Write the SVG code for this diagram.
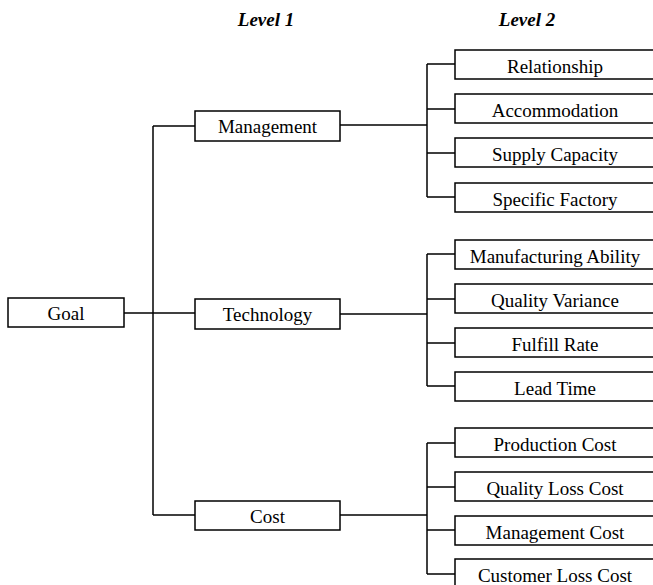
<svg xmlns="http://www.w3.org/2000/svg" width="653" height="585" viewBox="0 0 653 585">
  <style>
    .box { fill: #fff; stroke: #000; stroke-width: 1.5; }
    .lbl { font-family: "Liberation Serif", "Times New Roman", serif; font-size: 19px; fill: #000; text-anchor: middle; }
    .head { font-family: "Liberation Serif", "Times New Roman", serif; font-size: 19px; font-weight: bold; font-style: italic; fill: #000; text-anchor: middle; }
    .wire { fill: none; stroke: #000; stroke-width: 1.5; }
  </style>
  <rect width="653" height="585" fill="#fff"/>

  <text class="head" x="266" y="26">Level 1</text>
  <text class="head" x="527" y="26">Level 2</text>

  <g id="connectors" class="wire">
    <!-- goal to level 1 -->
    <path d="M124 313 H196"/>
    <path d="M153 126 V515"/>
    <path d="M153 126 H196"/>
    <path d="M153 515 H196"/>
    <!-- management branch -->
    <path d="M340 125 H427"/>
    <path d="M427 64 V197"/>
    <path d="M427 64 H455 M427 109 H455 M427 153 H455 M427 197 H455"/>
    <!-- technology branch -->
    <path d="M340 314 H427"/>
    <path d="M427 254 V386"/>
    <path d="M427 254 H455 M427 299 H455 M427 343 H455 M427 386 H455"/>
    <!-- cost branch -->
    <path d="M340 515 H427"/>
    <path d="M427 443 V574"/>
    <path d="M427 443 H455 M427 487 H455 M427 530 H455 M427 574 H455"/>
  </g>

  <g id="goal"><rect class="box" x="8" y="298" width="116" height="29"/><text class="lbl" x="66" y="320">Goal</text></g>

  <g id="management"><rect class="box" x="195" y="111" width="145" height="30"/><text class="lbl" x="267.5" y="133">Management</text></g>
  <g id="technology"><rect class="box" x="195" y="299" width="145" height="30"/><text class="lbl" x="267.5" y="321">Technology</text></g>
  <g id="cost"><rect class="box" x="195" y="501" width="145" height="29"/><text class="lbl" x="267.5" y="523">Cost</text></g>

  <g id="relationship"><rect class="box" x="455" y="50" width="202" height="29"/><text class="lbl" x="555" y="73">Relationship</text></g>
  <g id="accommodation"><rect class="box" x="455" y="94" width="202" height="29"/><text class="lbl" x="555" y="117">Accommodation</text></g>
  <g id="supply-capacity"><rect class="box" x="455" y="138" width="202" height="29"/><text class="lbl" x="555" y="161">Supply Capacity</text></g>
  <g id="specific-factory"><rect class="box" x="455" y="183" width="202" height="29"/><text class="lbl" x="555" y="206">Specific Factory</text></g>

  <g id="manufacturing-ability"><rect class="box" x="455" y="240" width="202" height="29"/><text class="lbl" x="555" y="263">Manufacturing Ability</text></g>
  <g id="quality-variance"><rect class="box" x="455" y="284" width="202" height="29"/><text class="lbl" x="555" y="307">Quality Variance</text></g>
  <g id="fulfill-rate"><rect class="box" x="455" y="328" width="202" height="29"/><text class="lbl" x="555" y="351">Fulfill Rate</text></g>
  <g id="lead-time"><rect class="box" x="455" y="372" width="202" height="29"/><text class="lbl" x="555" y="395">Lead Time</text></g>

  <g id="production-cost"><rect class="box" x="455" y="428" width="202" height="29"/><text class="lbl" x="555" y="451">Production Cost</text></g>
  <g id="quality-loss-cost"><rect class="box" x="455" y="472" width="202" height="29"/><text class="lbl" x="555" y="495">Quality Loss Cost</text></g>
  <g id="management-cost"><rect class="box" x="455" y="516" width="202" height="29"/><text class="lbl" x="555" y="539">Management Cost</text></g>
  <g id="customer-loss-cost"><rect class="box" x="455" y="559" width="202" height="30"/><text class="lbl" x="555" y="582">Customer Loss Cost</text></g>
</svg>
